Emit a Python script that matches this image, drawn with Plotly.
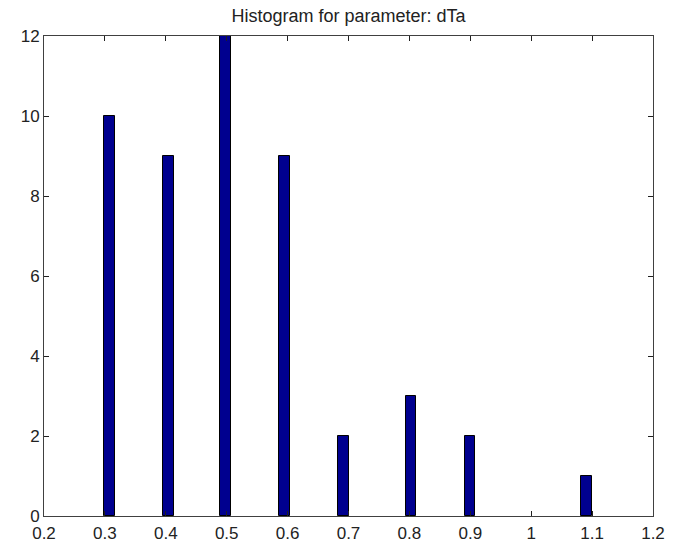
import plotly.graph_objects as go

# bin centers and counts
bin_centers = [0.3072, 0.4037, 0.4985, 0.5954, 0.6923, 0.8026, 0.8995, 1.0906]
counts = [10, 9, 12, 9, 2, 3, 2, 1]

x_tickvals = [0.2, 0.3, 0.4, 0.5, 0.6, 0.7, 0.8, 0.9, 1.0, 1.1, 1.2]
x_ticktext = ["0.2", "0.3", "0.4", "0.5", "0.6", "0.7", "0.8", "0.9", "1", "1.1", "1.2"]
y_tickvals = [0, 2, 4, 6, 8, 10, 12]

fig = go.Figure()
fig.add_trace(go.Bar(
    x=bin_centers, y=counts, width=0.0179,
    marker=dict(color="rgb(0,0,143)", line=dict(color="black", width=1)),
    showlegend=False,
))

axis_common = dict(
    showline=True, linecolor="#404040", linewidth=1, mirror="ticks",
    ticks="inside", ticklen=5, tickcolor="#202020", tickwidth=1,
    showgrid=False, zeroline=False,
    tickfont=dict(family="Arial, Liberation Sans, sans-serif", size=17, color="#222"),
)

fig.update_xaxes(range=[0.2, 1.2], tickvals=x_tickvals, ticktext=x_ticktext,
                 ticklabelstandoff=2, **axis_common)
fig.update_yaxes(range=[0, 12], tickvals=y_tickvals, **axis_common)

fig.update_layout(
    width=677, height=555,
    margin=dict(l=44, r=19, t=36, b=35),
    paper_bgcolor="white", plot_bgcolor="white",
    title=dict(text="Histogram for parameter: dTa", x=0.5, xref="paper", xanchor="center",
               y=1 - 16 / 555, yref="container", yanchor="middle",
               font=dict(family="Arial, Liberation Sans, sans-serif", size=18, color="#222")),
    bargap=0,
)

fig.write_html("out.html", config={"displayModeBar": False},
               post_script="document.body.style.margin='0';document.body.style.overflow='hidden';")
